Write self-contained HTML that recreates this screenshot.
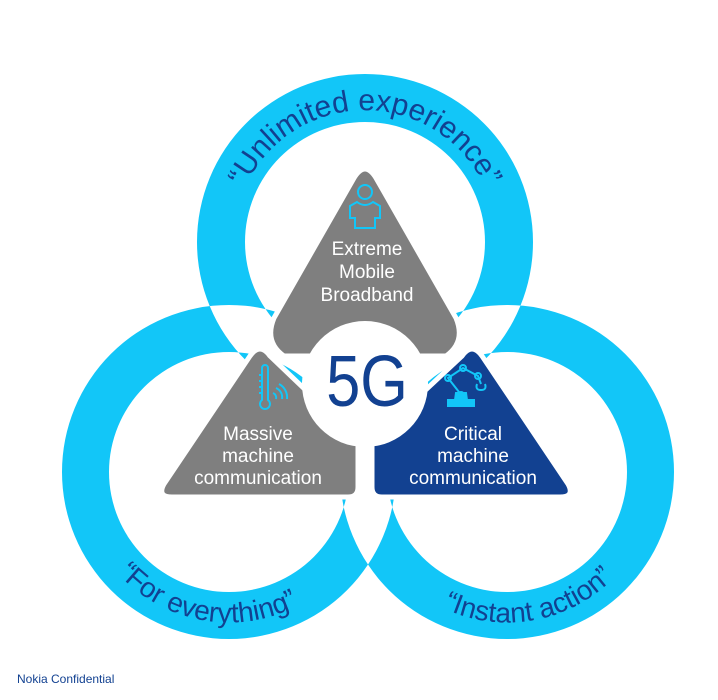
<!DOCTYPE html>
<html><head><meta charset="utf-8"><style>
html,body{margin:0;padding:0;background:#fff;}
svg{display:block;}
</style></head><body>
<svg width="718" height="700" viewBox="0 0 718 700" xmlns="http://www.w3.org/2000/svg" font-family="Liberation Sans, sans-serif">
  <defs>
    <path id="pTop" d="M241,197 A132,132 0 0 1 489,197"/>
    <path id="pLeft" d="M81,498 A150,150 0 0 0 359,547"/>
    <path id="pRight" d="M377,547 A150,150 0 0 0 655,498"/>
  </defs>
  <!-- rings (evenodd: overlaps become white) -->
  <path fill="#12c6f8" fill-rule="evenodd" d="
    M197,242 A168,168 0 1 0 533,242 A168,168 0 1 0 197,242 Z
    M245,242 A120,120 0 1 0 485,242 A120,120 0 1 0 245,242 Z
    M62,472 A167,167 0 1 0 396,472 A167,167 0 1 0 62,472 Z
    M109,472 A120,120 0 1 0 349,472 A120,120 0 1 0 109,472 Z
    M340,472 A167,167 0 1 0 674,472 A167,167 0 1 0 340,472 Z
    M387,472 A120,120 0 1 0 627,472 A120,120 0 1 0 387,472 Z"/>
  <!-- ring texts -->
  <g fill="#124191" font-size="30">
    <text><textPath href="#pTop" startOffset="50%" text-anchor="middle">“Unlimited experience”</textPath></text>
  </g>
  <g fill="#124191" font-size="28">
    <text><textPath href="#pLeft" startOffset="50%" text-anchor="middle">“For everything”</textPath></text>
    <text><textPath href="#pRight" startOffset="50%" text-anchor="middle">“Instant action”</textPath></text>
  </g>
  <!-- triangles -->
  <g stroke="#fff" stroke-width="5" stroke-linejoin="round">
    <path d="M354,178 Q365,160 376,178 L456,318 Q466,342 446,356 L284,356 Q264,342 274,318 Z" fill="#7f7f7f"/>
    <path d="M250,356 Q260,342 270,356 L358,440 L358,487 Q358,497 348,497 L172,497 Q157,497 164,484 Z" fill="#7f7f7f"/>
    <path d="M462,356 Q472,342 482,356 L568,484 Q575,497 560,497 L382,497 Q372,497 372,487 L372,440 Z" fill="#124191"/>
  </g>
  <circle cx="365" cy="384" r="63" fill="#fff"/>
  <text x="367" y="406" text-anchor="middle" font-size="72" fill="#124191" transform="translate(367 0) scale(0.85 1) translate(-367 0)">5G</text>
  <!-- labels -->
  <g fill="#fff" font-size="19" text-anchor="middle">
    <text x="367" y="255">Extreme</text>
    <text x="367" y="278">Mobile</text>
    <text x="367" y="301">Broadband</text>
    <text x="258" y="440">Massive</text>
    <text x="258" y="462">machine</text>
    <text x="258" y="484">communication</text>
    <text x="473" y="440">Critical</text>
    <text x="473" y="462">machine</text>
    <text x="473" y="484">communication</text>
  </g>
  <!-- icons -->
  <g fill="none" stroke="#12c6f8" stroke-width="2">
    <circle cx="365" cy="192" r="7"/>
    <path d="M357,202 L350,206 L350,218 L355,218 L355,228 L375,228 L375,218 L380,218 L380,206 L373,202 Q365,208 357,202 Z"/>
    <path d="M262,368 L262,400 A5,5 0 1 0 268,400 L268,368 A3,3 0 0 0 262,368 Z"/>
    <path d="M259,375 h3 M259,381 h3 M259,387 h3 M259,393 h3"/>
    <path d="M273,393 a5,5 0 0 1 3,6 M276,388 a10,10 0 0 1 6,11 M279,384 a15,15 0 0 1 8,15"/>
    <path d="M448,406 L474,406 L474,400 L448,400 Z" fill="#12c6f8"/>
    <path d="M455,400 L456,393 L466,393 L467,400" fill="#12c6f8"/>
    <circle cx="461" cy="395" r="3"/>
    <path d="M459,392 L448,378 L463,368 L478,376 L481,384"/>
    <circle cx="448" cy="378" r="3"/>
    <circle cx="463" cy="368" r="3"/>
    <circle cx="478" cy="376" r="3"/>
    <path d="M477,384 q-2,6 4,6 q6,0 4,-6"/>
  </g>
  <text x="17" y="683" font-size="12" fill="#124191">Nokia Confidential</text>
</svg>
</body></html>
